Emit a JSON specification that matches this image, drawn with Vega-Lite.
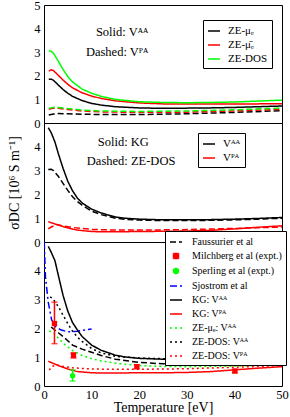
{
"$schema":"https://vega.github.io/schema/vega-lite/v6.json",
"padding":{"left":7,"top":-2,"right":8,"bottom":0},
"spacing":0,
"bounds":"flush",
"datasets":{
"p1":[
{"m":"ZE-μₑ","v":"AA","T":1,"y":1.85},{"m":"ZE-μₑ","v":"AA","T":1.5,"y":1.86},{"m":"ZE-μₑ","v":"AA","T":2,"y":1.81},{"m":"ZE-μₑ","v":"AA","T":3,"y":1.61},{"m":"ZE-μₑ","v":"AA","T":4,"y":1.42},{"m":"ZE-μₑ","v":"AA","T":5,"y":1.26},{"m":"ZE-μₑ","v":"AA","T":6,"y":1.13},{"m":"ZE-μₑ","v":"AA","T":8,"y":0.95},{"m":"ZE-μₑ","v":"AA","T":10,"y":0.83},{"m":"ZE-μₑ","v":"AA","T":12,"y":0.76},{"m":"ZE-μₑ","v":"AA","T":15,"y":0.69},{"m":"ZE-μₑ","v":"AA","T":20,"y":0.64},{"m":"ZE-μₑ","v":"AA","T":25,"y":0.62},{"m":"ZE-μₑ","v":"AA","T":30,"y":0.63},{"m":"ZE-μₑ","v":"AA","T":35,"y":0.64},{"m":"ZE-μₑ","v":"AA","T":40,"y":0.66},{"m":"ZE-μₑ","v":"AA","T":45,"y":0.69},{"m":"ZE-μₑ","v":"AA","T":50,"y":0.72},
{"m":"ZE-μ̄ₑ","v":"AA","T":1,"y":2.2},{"m":"ZE-μ̄ₑ","v":"AA","T":1.5,"y":2.25},{"m":"ZE-μ̄ₑ","v":"AA","T":2,"y":2.22},{"m":"ZE-μ̄ₑ","v":"AA","T":3,"y":2.02},{"m":"ZE-μ̄ₑ","v":"AA","T":4,"y":1.82},{"m":"ZE-μ̄ₑ","v":"AA","T":5,"y":1.64},{"m":"ZE-μ̄ₑ","v":"AA","T":6,"y":1.49},{"m":"ZE-μ̄ₑ","v":"AA","T":8,"y":1.28},{"m":"ZE-μ̄ₑ","v":"AA","T":10,"y":1.14},{"m":"ZE-μ̄ₑ","v":"AA","T":12,"y":1.04},{"m":"ZE-μ̄ₑ","v":"AA","T":15,"y":0.94},{"m":"ZE-μ̄ₑ","v":"AA","T":20,"y":0.85},{"m":"ZE-μ̄ₑ","v":"AA","T":25,"y":0.81},{"m":"ZE-μ̄ₑ","v":"AA","T":30,"y":0.8},{"m":"ZE-μ̄ₑ","v":"AA","T":35,"y":0.8},{"m":"ZE-μ̄ₑ","v":"AA","T":40,"y":0.8},{"m":"ZE-μ̄ₑ","v":"AA","T":45,"y":0.81},{"m":"ZE-μ̄ₑ","v":"AA","T":50,"y":0.82},
{"m":"ZE-DOS","v":"AA","T":1,"y":3.05},{"m":"ZE-DOS","v":"AA","T":1.5,"y":3.04},{"m":"ZE-DOS","v":"AA","T":2,"y":2.95},{"m":"ZE-DOS","v":"AA","T":3,"y":2.62},{"m":"ZE-DOS","v":"AA","T":4,"y":2.27},{"m":"ZE-DOS","v":"AA","T":5,"y":1.97},{"m":"ZE-DOS","v":"AA","T":6,"y":1.74},{"m":"ZE-DOS","v":"AA","T":8,"y":1.44},{"m":"ZE-DOS","v":"AA","T":10,"y":1.26},{"m":"ZE-DOS","v":"AA","T":12,"y":1.13},{"m":"ZE-DOS","v":"AA","T":15,"y":1.0},{"m":"ZE-DOS","v":"AA","T":20,"y":0.9},{"m":"ZE-DOS","v":"AA","T":25,"y":0.87},{"m":"ZE-DOS","v":"AA","T":30,"y":0.86},{"m":"ZE-DOS","v":"AA","T":35,"y":0.87},{"m":"ZE-DOS","v":"AA","T":40,"y":0.89},{"m":"ZE-DOS","v":"AA","T":45,"y":0.93},{"m":"ZE-DOS","v":"AA","T":50,"y":0.97},
{"m":"ZE-μₑ","v":"PA","T":1,"y":0.34},{"m":"ZE-μₑ","v":"PA","T":2,"y":0.38},{"m":"ZE-μₑ","v":"PA","T":3,"y":0.4},{"m":"ZE-μₑ","v":"PA","T":5,"y":0.39},{"m":"ZE-μₑ","v":"PA","T":8,"y":0.37},{"m":"ZE-μₑ","v":"PA","T":12,"y":0.36},{"m":"ZE-μₑ","v":"PA","T":20,"y":0.36},{"m":"ZE-μₑ","v":"PA","T":30,"y":0.39},{"m":"ZE-μₑ","v":"PA","T":40,"y":0.45},{"m":"ZE-μₑ","v":"PA","T":50,"y":0.52},
{"m":"ZE-μ̄ₑ","v":"PA","T":1,"y":0.58},{"m":"ZE-μ̄ₑ","v":"PA","T":2,"y":0.63},{"m":"ZE-μ̄ₑ","v":"PA","T":3,"y":0.62},{"m":"ZE-μ̄ₑ","v":"PA","T":5,"y":0.57},{"m":"ZE-μ̄ₑ","v":"PA","T":8,"y":0.51},{"m":"ZE-μ̄ₑ","v":"PA","T":12,"y":0.47},{"m":"ZE-μ̄ₑ","v":"PA","T":20,"y":0.45},{"m":"ZE-μ̄ₑ","v":"PA","T":30,"y":0.46},{"m":"ZE-μ̄ₑ","v":"PA","T":40,"y":0.51},{"m":"ZE-μ̄ₑ","v":"PA","T":50,"y":0.58},
{"m":"ZE-DOS","v":"PA","T":1,"y":0.62},{"m":"ZE-DOS","v":"PA","T":2,"y":0.67},{"m":"ZE-DOS","v":"PA","T":3,"y":0.66},{"m":"ZE-DOS","v":"PA","T":5,"y":0.61},{"m":"ZE-DOS","v":"PA","T":8,"y":0.55},{"m":"ZE-DOS","v":"PA","T":12,"y":0.51},{"m":"ZE-DOS","v":"PA","T":20,"y":0.49},{"m":"ZE-DOS","v":"PA","T":30,"y":0.51},{"m":"ZE-DOS","v":"PA","T":40,"y":0.56},{"m":"ZE-DOS","v":"PA","T":50,"y":0.63}
],
"p2":[
{"v":"Vᴬᴬ","m":"KG","T":0.9,"y":4.8},{"v":"Vᴬᴬ","m":"KG","T":1.5,"y":4.6},{"v":"Vᴬᴬ","m":"KG","T":2.3,"y":4.2},{"v":"Vᴬᴬ","m":"KG","T":3,"y":3.72},{"v":"Vᴬᴬ","m":"KG","T":4,"y":3.1},{"v":"Vᴬᴬ","m":"KG","T":5,"y":2.55},{"v":"Vᴬᴬ","m":"KG","T":6,"y":2.15},{"v":"Vᴬᴬ","m":"KG","T":7,"y":1.85},{"v":"Vᴬᴬ","m":"KG","T":8,"y":1.64},{"v":"Vᴬᴬ","m":"KG","T":10,"y":1.38},{"v":"Vᴬᴬ","m":"KG","T":12,"y":1.22},{"v":"Vᴬᴬ","m":"KG","T":15,"y":1.05},{"v":"Vᴬᴬ","m":"KG","T":17,"y":1.0},{"v":"Vᴬᴬ","m":"KG","T":20,"y":0.96},{"v":"Vᴬᴬ","m":"KG","T":25,"y":0.93},{"v":"Vᴬᴬ","m":"KG","T":30,"y":0.93},{"v":"Vᴬᴬ","m":"KG","T":35,"y":0.94},{"v":"Vᴬᴬ","m":"KG","T":40,"y":0.96},{"v":"Vᴬᴬ","m":"KG","T":45,"y":0.99},{"v":"Vᴬᴬ","m":"KG","T":50,"y":1.03},
{"v":"Vᴬᴬ","m":"ZE-DOS","T":0.9,"y":3.05},{"v":"Vᴬᴬ","m":"ZE-DOS","T":1.5,"y":3.06},{"v":"Vᴬᴬ","m":"ZE-DOS","T":2,"y":3.0},{"v":"Vᴬᴬ","m":"ZE-DOS","T":3,"y":2.76},{"v":"Vᴬᴬ","m":"ZE-DOS","T":4,"y":2.46},{"v":"Vᴬᴬ","m":"ZE-DOS","T":5,"y":2.17},{"v":"Vᴬᴬ","m":"ZE-DOS","T":6,"y":1.9},{"v":"Vᴬᴬ","m":"ZE-DOS","T":7,"y":1.7},{"v":"Vᴬᴬ","m":"ZE-DOS","T":8,"y":1.55},{"v":"Vᴬᴬ","m":"ZE-DOS","T":10,"y":1.3},{"v":"Vᴬᴬ","m":"ZE-DOS","T":12,"y":1.15},{"v":"Vᴬᴬ","m":"ZE-DOS","T":15,"y":1.0},{"v":"Vᴬᴬ","m":"ZE-DOS","T":17,"y":0.95},{"v":"Vᴬᴬ","m":"ZE-DOS","T":20,"y":0.92},{"v":"Vᴬᴬ","m":"ZE-DOS","T":25,"y":0.9},{"v":"Vᴬᴬ","m":"ZE-DOS","T":30,"y":0.9},{"v":"Vᴬᴬ","m":"ZE-DOS","T":35,"y":0.91},{"v":"Vᴬᴬ","m":"ZE-DOS","T":40,"y":0.93},{"v":"Vᴬᴬ","m":"ZE-DOS","T":45,"y":0.96},{"v":"Vᴬᴬ","m":"ZE-DOS","T":50,"y":1.0},
{"v":"Vᴾᴬ","m":"KG","T":0.9,"y":0.85},{"v":"Vᴾᴬ","m":"KG","T":2,"y":0.78},{"v":"Vᴾᴬ","m":"KG","T":3,"y":0.71},{"v":"Vᴾᴬ","m":"KG","T":5,"y":0.59},{"v":"Vᴾᴬ","m":"KG","T":7,"y":0.5},{"v":"Vᴾᴬ","m":"KG","T":10,"y":0.44},{"v":"Vᴾᴬ","m":"KG","T":12,"y":0.43},{"v":"Vᴾᴬ","m":"KG","T":15,"y":0.43},{"v":"Vᴾᴬ","m":"KG","T":20,"y":0.44},{"v":"Vᴾᴬ","m":"KG","T":25,"y":0.45},{"v":"Vᴾᴬ","m":"KG","T":30,"y":0.46},{"v":"Vᴾᴬ","m":"KG","T":35,"y":0.49},{"v":"Vᴾᴬ","m":"KG","T":40,"y":0.55},{"v":"Vᴾᴬ","m":"KG","T":45,"y":0.62},{"v":"Vᴾᴬ","m":"KG","T":50,"y":0.68},
{"v":"Vᴾᴬ","m":"ZE-DOS","T":0.9,"y":0.55},{"v":"Vᴾᴬ","m":"ZE-DOS","T":1.5,"y":0.63},{"v":"Vᴾᴬ","m":"ZE-DOS","T":2.7,"y":0.73},{"v":"Vᴾᴬ","m":"ZE-DOS","T":4,"y":0.68},{"v":"Vᴾᴬ","m":"ZE-DOS","T":6,"y":0.61},{"v":"Vᴾᴬ","m":"ZE-DOS","T":10,"y":0.53},{"v":"Vᴾᴬ","m":"ZE-DOS","T":15,"y":0.5},{"v":"Vᴾᴬ","m":"ZE-DOS","T":20,"y":0.5},{"v":"Vᴾᴬ","m":"ZE-DOS","T":30,"y":0.52},{"v":"Vᴾᴬ","m":"ZE-DOS","T":40,"y":0.57},{"v":"Vᴾᴬ","m":"ZE-DOS","T":50,"y":0.63}
],
"p3":[
{"s":"Faussurier et al","T":1.5,"y":2.05},{"s":"Faussurier et al","T":2,"y":1.98},{"s":"Faussurier et al","T":3,"y":1.85},{"s":"Faussurier et al","T":4,"y":1.72},{"s":"Faussurier et al","T":5,"y":1.57},{"s":"Faussurier et al","T":6,"y":1.42},{"s":"Faussurier et al","T":8,"y":1.28},{"s":"Faussurier et al","T":10,"y":1.17},{"s":"Faussurier et al","T":12,"y":1.06},{"s":"Faussurier et al","T":15,"y":0.93},{"s":"Faussurier et al","T":20,"y":0.82},{"s":"Faussurier et al","T":25,"y":0.77},{"s":"Faussurier et al","T":30,"y":0.75},{"s":"Faussurier et al","T":35,"y":0.76},{"s":"Faussurier et al","T":40,"y":0.77},{"s":"Faussurier et al","T":45,"y":0.79},{"s":"Faussurier et al","T":50,"y":0.82},
{"s":"Sjostrom et al","T":0.05,"y":5.0},{"s":"Sjostrom et al","T":0.3,"y":3.8},{"s":"Sjostrom et al","T":0.9,"y":2.9},{"s":"Sjostrom et al","T":1.6,"y":2.3},{"s":"Sjostrom et al","T":2.5,"y":2.05},{"s":"Sjostrom et al","T":3.5,"y":1.95},{"s":"Sjostrom et al","T":5,"y":1.88},{"s":"Sjostrom et al","T":7,"y":1.9},{"s":"Sjostrom et al","T":10,"y":1.98},
{"s":"KG: Vᴬᴬ","T":0.9,"y":4.85},{"s":"KG: Vᴬᴬ","T":1.5,"y":4.65},{"s":"KG: Vᴬᴬ","T":2.3,"y":4.35},{"s":"KG: Vᴬᴬ","T":3,"y":3.85},{"s":"KG: Vᴬᴬ","T":4,"y":3.15},{"s":"KG: Vᴬᴬ","T":5,"y":2.6},{"s":"KG: Vᴬᴬ","T":6,"y":2.2},{"s":"KG: Vᴬᴬ","T":7,"y":1.95},{"s":"KG: Vᴬᴬ","T":8,"y":1.72},{"s":"KG: Vᴬᴬ","T":10,"y":1.42},{"s":"KG: Vᴬᴬ","T":12,"y":1.24},{"s":"KG: Vᴬᴬ","T":15,"y":1.07},{"s":"KG: Vᴬᴬ","T":17,"y":1.01},{"s":"KG: Vᴬᴬ","T":20,"y":0.96},{"s":"KG: Vᴬᴬ","T":25,"y":0.93},{"s":"KG: Vᴬᴬ","T":30,"y":0.93},{"s":"KG: Vᴬᴬ","T":35,"y":0.94},{"s":"KG: Vᴬᴬ","T":40,"y":0.96},{"s":"KG: Vᴬᴬ","T":45,"y":0.99},{"s":"KG: Vᴬᴬ","T":50,"y":1.03},
{"s":"KG: Vᴾᴬ","T":0.9,"y":0.86},{"s":"KG: Vᴾᴬ","T":2,"y":0.78},{"s":"KG: Vᴾᴬ","T":3,"y":0.71},{"s":"KG: Vᴾᴬ","T":5,"y":0.59},{"s":"KG: Vᴾᴬ","T":7,"y":0.5},{"s":"KG: Vᴾᴬ","T":10,"y":0.46},{"s":"KG: Vᴾᴬ","T":12,"y":0.45},{"s":"KG: Vᴾᴬ","T":15,"y":0.45},{"s":"KG: Vᴾᴬ","T":20,"y":0.46},{"s":"KG: Vᴾᴬ","T":25,"y":0.46},{"s":"KG: Vᴾᴬ","T":30,"y":0.47},{"s":"KG: Vᴾᴬ","T":35,"y":0.5},{"s":"KG: Vᴾᴬ","T":40,"y":0.56},{"s":"KG: Vᴾᴬ","T":45,"y":0.62},{"s":"KG: Vᴾᴬ","T":50,"y":0.67},
{"s":"ZE-μₑ: Vᴬᴬ","T":1.1,"y":1.91},{"s":"ZE-μₑ: Vᴬᴬ","T":2,"y":1.86},{"s":"ZE-μₑ: Vᴬᴬ","T":3,"y":1.66},{"s":"ZE-μₑ: Vᴬᴬ","T":4.5,"y":1.42},{"s":"ZE-μₑ: Vᴬᴬ","T":6,"y":1.23},{"s":"ZE-μₑ: Vᴬᴬ","T":8,"y":1.06},{"s":"ZE-μₑ: Vᴬᴬ","T":10,"y":0.95},{"s":"ZE-μₑ: Vᴬᴬ","T":12,"y":0.87},{"s":"ZE-μₑ: Vᴬᴬ","T":15,"y":0.79},{"s":"ZE-μₑ: Vᴬᴬ","T":20,"y":0.71},{"s":"ZE-μₑ: Vᴬᴬ","T":25,"y":0.68},{"s":"ZE-μₑ: Vᴬᴬ","T":30,"y":0.67},{"s":"ZE-μₑ: Vᴬᴬ","T":35,"y":0.68},{"s":"ZE-μₑ: Vᴬᴬ","T":40,"y":0.69},{"s":"ZE-μₑ: Vᴬᴬ","T":45,"y":0.72},{"s":"ZE-μₑ: Vᴬᴬ","T":50,"y":0.75},
{"s":"ZE-DOS: Vᴬᴬ","T":1.3,"y":3.1},{"s":"ZE-DOS: Vᴬᴬ","T":2,"y":3.0},{"s":"ZE-DOS: Vᴬᴬ","T":3,"y":2.76},{"s":"ZE-DOS: Vᴬᴬ","T":4,"y":2.46},{"s":"ZE-DOS: Vᴬᴬ","T":5,"y":2.17},{"s":"ZE-DOS: Vᴬᴬ","T":6,"y":1.9},{"s":"ZE-DOS: Vᴬᴬ","T":7,"y":1.7},{"s":"ZE-DOS: Vᴬᴬ","T":8,"y":1.55},{"s":"ZE-DOS: Vᴬᴬ","T":10,"y":1.3},{"s":"ZE-DOS: Vᴬᴬ","T":12,"y":1.15},{"s":"ZE-DOS: Vᴬᴬ","T":15,"y":1.03},{"s":"ZE-DOS: Vᴬᴬ","T":20,"y":0.97},{"s":"ZE-DOS: Vᴬᴬ","T":25,"y":0.95},{"s":"ZE-DOS: Vᴬᴬ","T":30,"y":0.95},{"s":"ZE-DOS: Vᴬᴬ","T":35,"y":0.96},{"s":"ZE-DOS: Vᴬᴬ","T":40,"y":0.98},{"s":"ZE-DOS: Vᴬᴬ","T":45,"y":1.0},{"s":"ZE-DOS: Vᴬᴬ","T":50,"y":1.03},
{"s":"ZE-DOS: Vᴾᴬ","T":1.1,"y":0.55},{"s":"ZE-DOS: Vᴾᴬ","T":1.7,"y":0.68},{"s":"ZE-DOS: Vᴾᴬ","T":2.7,"y":0.73},{"s":"ZE-DOS: Vᴾᴬ","T":4,"y":0.68},{"s":"ZE-DOS: Vᴾᴬ","T":6,"y":0.63},{"s":"ZE-DOS: Vᴾᴬ","T":10,"y":0.59},{"s":"ZE-DOS: Vᴾᴬ","T":15,"y":0.58},{"s":"ZE-DOS: Vᴾᴬ","T":20,"y":0.58},{"s":"ZE-DOS: Vᴾᴬ","T":30,"y":0.6},{"s":"ZE-DOS: Vᴾᴬ","T":40,"y":0.65},{"s":"ZE-DOS: Vᴾᴬ","T":50,"y":0.71}
],
"pts":[
{"s":"Milchberg et al (expt.)","T":2.2,"y":2.17,"lo":1.47,"hi":2.91},
{"s":"Milchberg et al (expt.)","T":6.2,"y":1.07,"lo":0.97,"hi":1.15},
{"s":"Milchberg et al (expt.)","T":19.5,"y":0.67,"lo":0.61,"hi":0.74},
{"s":"Milchberg et al (expt.)","T":40.1,"y":0.52,"lo":0.46,"hi":0.58},
{"s":"Sperling et al (expt.)","T":6.0,"y":0.36,"lo":0.17,"hi":0.56}
],
"t1":[{"T":10.9,"y":3.87,"label":"Solid: Vᴬᴬ"},{"T":8.8,"y":3.02,"label":"Dashed: Vᴾᴬ"}],
"t2":[{"T":11.3,"y":4.2,"label":"Solid: KG"},{"T":9.0,"y":3.42,"label":"Dashed: ZE-DOS"}]
},
"vconcat":[
{
"width":238,"height":118,
"resolve":{"axis":{"x":"independent","y":"independent"}},
"layer":[
{"data":{"name":"p1"},"mark":{"type":"line","strokeWidth":1.5},
"encoding":{
"x":{"field":"T","type":"quantitative","scale":{"domain":[0,50],"nice":false},"axis":{"orient":"bottom","values":[0,5,10,15,20,25,30,35,40,45,50],"labels":false,"title":null,"encode":{"ticks":{"update":{"y2":{"signal":"datum.value % 10 === 0 ? -5 : -3"}}}}}},
"y":{"field":"y","type":"quantitative","scale":{"domain":[0,5],"nice":false},"axis":{"orient":"left","values":[0,0.5,1,1.5,2,2.5,3,3.5,4,4.5,5],"labelExpr":"datum.value % 1 === 0 ? format(datum.value, 'd') : ''","title":null,"encode":{"ticks":{"update":{"x2":{"signal":"datum.value % 1 === 0 ? 5 : 3"}}}}}},
"color":{"field":"m","type":"nominal","scale":{"domain":["ZE-μₑ","ZE-μ̄ₑ","ZE-DOS"],"range":["#000000","#ff0000","#00ff00"]},"legend":{"title":null,"orient":"none","legendX":159,"legendY":15,"symbolType":"stroke","symbolSize":144,"symbolStrokeWidth":1.5,"labelOffset":7,"rowPadding":2,"padding":4}},
"strokeDash":{"field":"v","type":"nominal","scale":{"domain":["AA","PA"],"range":[[1,0],[6,3]]},"legend":null}
}},
{"data":{"name":"p1"},"mark":{"type":"point","opacity":0},
"encoding":{
"x":{"field":"T","type":"quantitative","scale":{"domain":[0,50],"nice":false},"axis":{"orient":"top","values":[0,5,10,15,20,25,30,35,40,45,50],"labels":false,"title":null,"encode":{"ticks":{"update":{"y2":{"signal":"datum.value % 10 === 0 ? 5 : 3"}}}}}},
"y":{"field":"y","type":"quantitative","scale":{"domain":[0,5],"nice":false},"axis":{"orient":"right","values":[0,0.5,1,1.5,2,2.5,3,3.5,4,4.5,5],"labels":false,"title":null,"encode":{"ticks":{"update":{"x2":{"signal":"datum.value % 1 === 0 ? -5 : -3"}}}}}}
}},
{"data":{"name":"t1"},"mark":{"type":"text","align":"left","baseline":"middle","fontSize":12.5,"font":"Liberation Serif","color":"black"},
"encoding":{
"x":{"field":"T","type":"quantitative","scale":{"domain":[0,50],"nice":false},"axis":null},
"y":{"field":"y","type":"quantitative","scale":{"domain":[0,5],"nice":false},"axis":null},
"text":{"field":"label"}
}}
]
},
{
"width":238,"height":119,
"resolve":{"axis":{"x":"independent","y":"independent"}},
"layer":[
{"data":{"name":"p2"},"mark":{"type":"line","strokeWidth":1.5},
"encoding":{
"x":{"field":"T","type":"quantitative","scale":{"domain":[0,50],"nice":false},"axis":{"orient":"bottom","values":[0,5,10,15,20,25,30,35,40,45,50],"labels":false,"title":null,"encode":{"ticks":{"update":{"y2":{"signal":"datum.value % 10 === 0 ? -5 : -3"}}}}}},
"y":{"field":"y","type":"quantitative","scale":{"domain":[0,5],"nice":false},"axis":{"orient":"left","values":[0,0.5,1,1.5,2,2.5,3,3.5,4,4.5,5],"labelExpr":"datum.value % 1 === 0 && datum.value < 5 ? format(datum.value, 'd') : ''","title":"σDC [10⁶ S m⁻¹]","titlePadding":12,"encode":{"ticks":{"update":{"x2":{"signal":"datum.value % 1 === 0 ? 5 : 3"}}}}}},
"color":{"field":"v","type":"nominal","scale":{"domain":["Vᴬᴬ","Vᴾᴬ"],"range":["#000000","#ff0000"]},"legend":{"title":null,"orient":"none","legendX":154,"legendY":10,"symbolType":"stroke","symbolSize":144,"symbolStrokeWidth":1.5,"labelOffset":7,"rowPadding":2,"padding":4}},
"strokeDash":{"field":"m","type":"nominal","scale":{"domain":["KG","ZE-DOS"],"range":[[1,0],[6,3]]},"legend":null}
}},
{"data":{"name":"p2"},"mark":{"type":"point","opacity":0},
"encoding":{
"x":{"field":"T","type":"quantitative","scale":{"domain":[0,50],"nice":false},"axis":{"orient":"top","values":[0,5,10,15,20,25,30,35,40,45,50],"labels":false,"title":null,"encode":{"ticks":{"update":{"y2":{"signal":"datum.value % 10 === 0 ? 5 : 3"}}}}}},
"y":{"field":"y","type":"quantitative","scale":{"domain":[0,5],"nice":false},"axis":{"orient":"right","values":[0,0.5,1,1.5,2,2.5,3,3.5,4,4.5,5],"labels":false,"title":null,"encode":{"ticks":{"update":{"x2":{"signal":"datum.value % 1 === 0 ? -5 : -3"}}}}}}
}},
{"data":{"name":"t2"},"mark":{"type":"text","align":"left","baseline":"middle","fontSize":12.5,"font":"Liberation Serif","color":"black"},
"encoding":{
"x":{"field":"T","type":"quantitative","scale":{"domain":[0,50],"nice":false},"axis":null},
"y":{"field":"y","type":"quantitative","scale":{"domain":[0,5],"nice":false},"axis":null},
"text":{"field":"label"}
}}
]
},
{
"width":238,"height":144,
"resolve":{"axis":{"x":"independent","y":"independent"}},
"layer":[
{"data":{"name":"p3"},"mark":{"type":"line","strokeWidth":1.5,"clip":true},
"encoding":{
"x":{"field":"T","type":"quantitative","scale":{"domain":[0,50],"nice":false},"axis":{"orient":"bottom","values":[0,5,10,15,20,25,30,35,40,45,50],"labelExpr":"datum.value % 10 === 0 ? format(datum.value, 'd') : ''","labelPadding":2,"title":"Temperature [eV]","titlePadding":0,"encode":{"ticks":{"update":{"y2":{"signal":"datum.value % 10 === 0 ? -5 : -3"}}}}}},
"y":{"field":"y","type":"quantitative","scale":{"domain":[0,5],"nice":false},"axis":{"orient":"left","values":[0,0.5,1,1.5,2,2.5,3,3.5,4,4.5,5],"labelExpr":"datum.value % 1 === 0 && datum.value < 5 ? format(datum.value, 'd') : ''","title":null,"encode":{"ticks":{"update":{"x2":{"signal":"datum.value % 1 === 0 ? 5 : 3"}}}}}},
"color":{"field":"s","type":"nominal","scale":{"domain":["Faussurier et al","Milchberg et al (expt.)","Sperling et al (expt.)","Sjostrom et al","KG: Vᴬᴬ","KG: Vᴾᴬ","ZE-μₑ: Vᴬᴬ","ZE-DOS: Vᴬᴬ","ZE-DOS: Vᴾᴬ"],"range":["#000000","#ff0000","#00ff00","#0000ff","#000000","#ff0000","#00ff00","#000000","#ff0000"]},"legend":{"title":null,"orient":"none","legendX":121,"legendY":-11,"symbolType":"stroke","symbolSize":144,"symbolStrokeWidth":1.5,"labelOffset":9,"labelFontSize":10,"rowPadding":2,"padding":4,"encode":{"symbols":{"update":{"size":{"signal":"indexof(['Milchberg et al (expt.)','Sperling et al (expt.)'], datum.value) >= 0 ? 25 : 144"}}}}}},
"strokeDash":{"field":"s","type":"nominal","scale":{"domain":["Faussurier et al","Milchberg et al (expt.)","Sperling et al (expt.)","Sjostrom et al","KG: Vᴬᴬ","KG: Vᴾᴬ","ZE-μₑ: Vᴬᴬ","ZE-DOS: Vᴬᴬ","ZE-DOS: Vᴾᴬ"],"range":[[6,3],[1,0],[1,0],[7,3,2,3],[1,0],[1,0],[2,3],[2,3],[2,3]]}}
}},
{"data":{"name":"pts"},"mark":{"type":"rule","strokeWidth":1.5},
"encoding":{
"x":{"field":"T","type":"quantitative","scale":{"domain":[0,50],"nice":false},"axis":null},
"y":{"field":"lo","type":"quantitative","scale":{"domain":[0,5],"nice":false},"axis":null},
"y2":{"field":"hi"},
"color":{"field":"s","type":"nominal","scale":{"domain":["Faussurier et al","Milchberg et al (expt.)","Sperling et al (expt.)","Sjostrom et al","KG: Vᴬᴬ","KG: Vᴾᴬ","ZE-μₑ: Vᴬᴬ","ZE-DOS: Vᴬᴬ","ZE-DOS: Vᴾᴬ"],"range":["#000000","#ff0000","#00ff00","#0000ff","#000000","#ff0000","#00ff00","#000000","#ff0000"]}}
}},
{"data":{"name":"pts"},"mark":{"type":"tick","orient":"horizontal","size":6,"thickness":1.5},
"encoding":{
"x":{"field":"T","type":"quantitative","scale":{"domain":[0,50],"nice":false},"axis":null},
"y":{"field":"lo","type":"quantitative","scale":{"domain":[0,5],"nice":false},"axis":null},
"color":{"field":"s","type":"nominal","scale":{"domain":["Faussurier et al","Milchberg et al (expt.)","Sperling et al (expt.)","Sjostrom et al","KG: Vᴬᴬ","KG: Vᴾᴬ","ZE-μₑ: Vᴬᴬ","ZE-DOS: Vᴬᴬ","ZE-DOS: Vᴾᴬ"],"range":["#000000","#ff0000","#00ff00","#0000ff","#000000","#ff0000","#00ff00","#000000","#ff0000"]}}
}},
{"data":{"name":"pts"},"mark":{"type":"tick","orient":"horizontal","size":6,"thickness":1.5},
"encoding":{
"x":{"field":"T","type":"quantitative","scale":{"domain":[0,50],"nice":false},"axis":null},
"y":{"field":"hi","type":"quantitative","scale":{"domain":[0,5],"nice":false},"axis":null},
"color":{"field":"s","type":"nominal","scale":{"domain":["Faussurier et al","Milchberg et al (expt.)","Sperling et al (expt.)","Sjostrom et al","KG: Vᴬᴬ","KG: Vᴾᴬ","ZE-μₑ: Vᴬᴬ","ZE-DOS: Vᴬᴬ","ZE-DOS: Vᴾᴬ"],"range":["#000000","#ff0000","#00ff00","#0000ff","#000000","#ff0000","#00ff00","#000000","#ff0000"]}}
}},
{"data":{"name":"pts"},"mark":{"type":"point","filled":true,"opacity":1,"size":28},
"encoding":{
"x":{"field":"T","type":"quantitative","scale":{"domain":[0,50],"nice":false},"axis":null},
"y":{"field":"y","type":"quantitative","scale":{"domain":[0,5],"nice":false},"axis":null},
"color":{"field":"s","type":"nominal","scale":{"domain":["Faussurier et al","Milchberg et al (expt.)","Sperling et al (expt.)","Sjostrom et al","KG: Vᴬᴬ","KG: Vᴾᴬ","ZE-μₑ: Vᴬᴬ","ZE-DOS: Vᴬᴬ","ZE-DOS: Vᴾᴬ"],"range":["#000000","#ff0000","#00ff00","#0000ff","#000000","#ff0000","#00ff00","#000000","#ff0000"]}},
"shape":{"field":"s","type":"nominal","scale":{"domain":["Faussurier et al","Milchberg et al (expt.)","Sperling et al (expt.)","Sjostrom et al","KG: Vᴬᴬ","KG: Vᴾᴬ","ZE-μₑ: Vᴬᴬ","ZE-DOS: Vᴬᴬ","ZE-DOS: Vᴾᴬ"],"range":["stroke","square","circle","stroke","stroke","stroke","stroke","stroke","stroke"]}}
}},
{"data":{"name":"p3"},"mark":{"type":"point","opacity":0},
"encoding":{
"x":{"field":"T","type":"quantitative","scale":{"domain":[0,50],"nice":false},"axis":{"orient":"top","values":[0,5,10,15,20,25,30,35,40,45,50],"labels":false,"title":null,"encode":{"ticks":{"update":{"y2":{"signal":"datum.value % 10 === 0 ? 5 : 3"}}}}}},
"y":{"field":"y","type":"quantitative","scale":{"domain":[0,5],"nice":false},"axis":{"orient":"right","values":[0,0.5,1,1.5,2,2.5,3,3.5,4,4.5,5],"labels":false,"title":null,"encode":{"ticks":{"update":{"x2":{"signal":"datum.value % 1 === 0 ? -5 : -3"}}}}}}
}}
]
}
],
"resolve":{"scale":{"color":"independent","strokeDash":"independent","shape":"independent","y":"independent"}},
"config":{
"font":"Liberation Serif",
"view":{"stroke":"#000000","strokeWidth":1},
"axis":{"grid":false,"domain":false,"labelFont":"Liberation Serif","labelFontSize":12.5,"labelColor":"#000000","titleFont":"Liberation Serif","titleFontSize":14,"titleFontWeight":"normal","titleColor":"#000000","tickColor":"#000000","tickSize":0,"tickWidth":1,"labelPadding":4,"labelFlush":false,"labelOverlap":false,"labelBound":false},
"legend":{"labelFont":"Liberation Serif","labelFontSize":11,"labelColor":"#000000","strokeColor":"#000000","fillColor":"#ffffff","padding":4,"cornerRadius":0,"labelLimit":200}
}
}
